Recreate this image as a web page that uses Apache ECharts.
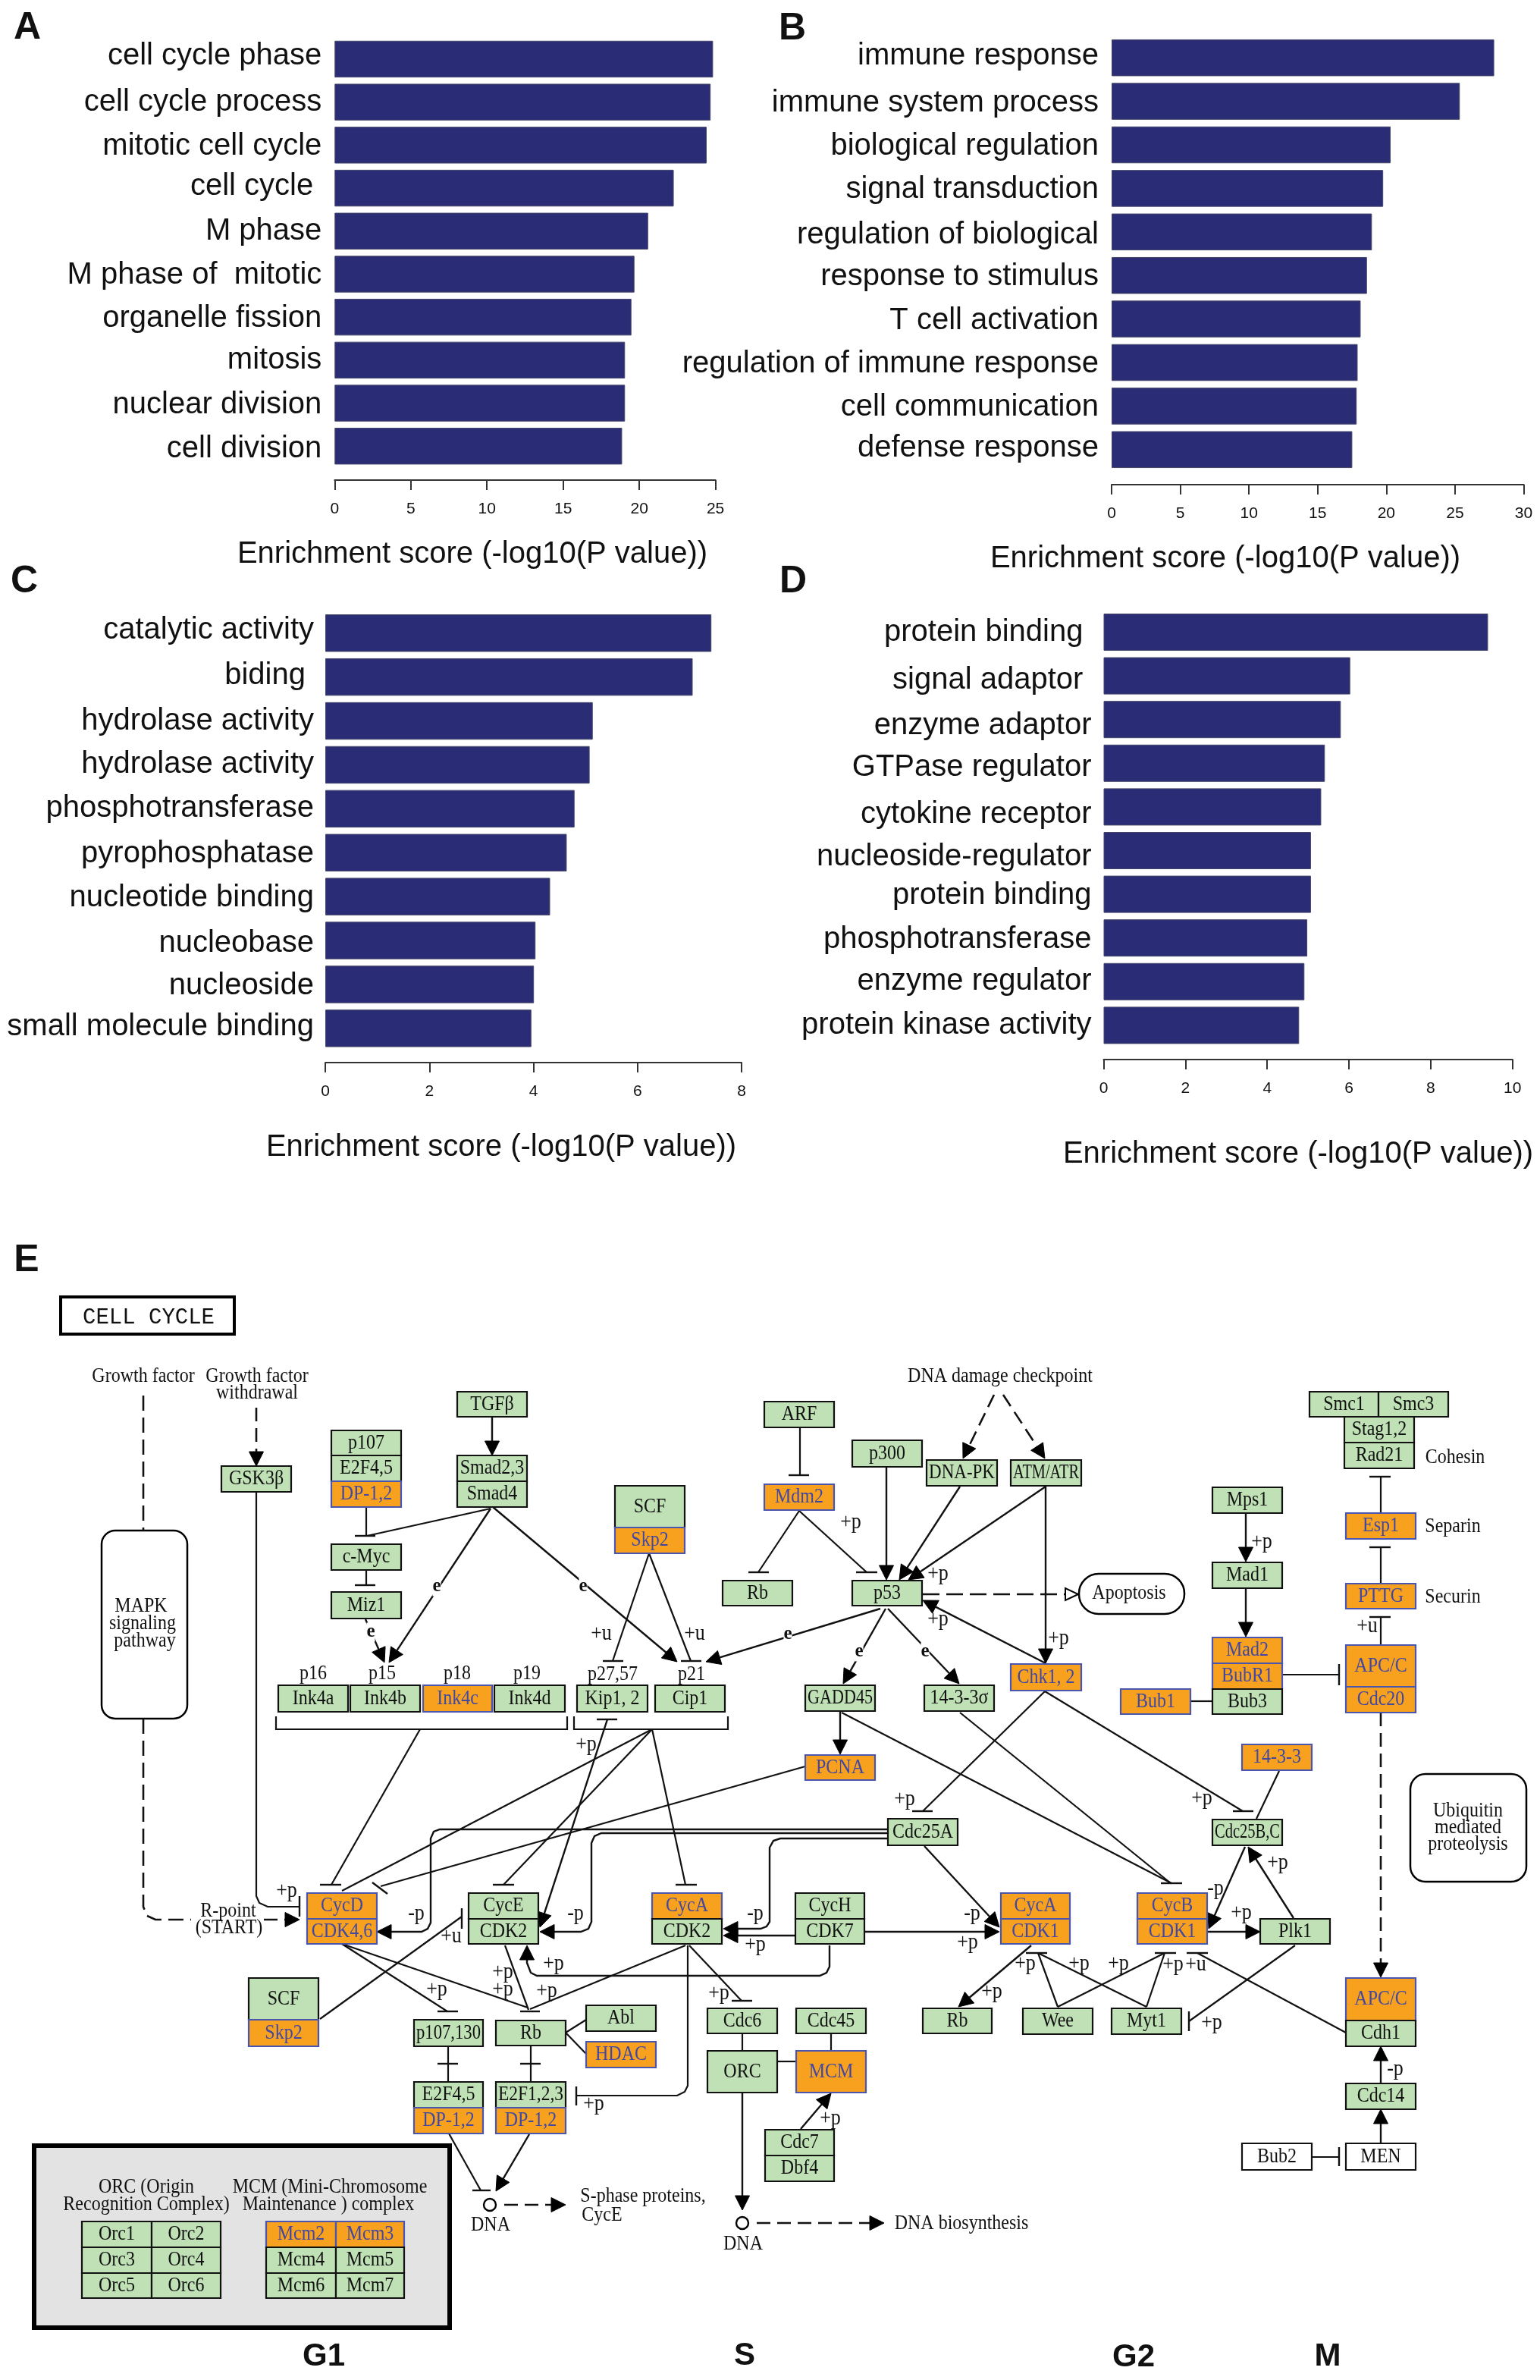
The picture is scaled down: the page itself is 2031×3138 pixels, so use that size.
<!DOCTYPE html>
<html>
<head>
<meta charset="utf-8">
<style>html,body{margin:0;padding:0;background:#fff}#chart{width:2031px;height:3138px}</style>
<script src="https://cdn.jsdelivr.net/npm/echarts@6/dist/echarts.min.js"></script>
</head>
<body>
<div id="chart"></div>
<script>
// ---------- Bar panel data ----------
const categoriesA = ['cell cycle phase','cell cycle process','mitotic cell cycle','cell cycle ','M phase','M phase of  mitotic','organelle fission','mitosis','nuclear division','cell division'];
const valuesA = [24.84,24.68,24.42,22.26,20.58,19.68,19.48,19.06,19.06,18.87];
const categoriesB = ['immune response','immune system process','biological regulation','signal transduction','regulation of biological','response to stimulus','T cell activation','regulation of immune response','cell communication','defense response'];
const valuesB = [27.85,25.35,20.31,19.77,18.95,18.59,18.13,17.91,17.84,17.52];
const categoriesC = ['catalytic activity','biding ','hydrolase activity','hydrolase activity','phosphotransferase','pyrophosphatase','nucleotide binding','nucleobase','nucleoside','small molecule binding'];
const valuesC = [7.42,7.06,5.14,5.08,4.79,4.64,4.32,4.04,4.01,3.96];
const categoriesD = ['protein binding ','signal adaptor ','enzyme adaptor','GTPase regulator','cytokine receptor','nucleoside-regulator','protein binding','phosphotransferase','enzyme regulator','protein kinase activity'];
const valuesD = [9.40,6.03,5.80,5.41,5.32,5.07,5.07,4.98,4.91,4.78];
const axisTitle = 'Enrichment score (-log10(P value))';

// ---------- Pathway gene boxes: text, state (0 green, 1 orange, 2 white) ----------
const geneLabels = [
 'GSK3β','TGFβ','Smad2,3','Smad4','p107','E2F4,5','DP-1,2','c-Myc','Miz1',
 'Ink4a','Ink4b','Ink4c','Ink4d','Kip1, 2','Cip1','SCF','Skp2',
 'ARF','Mdm2','Rb','p300','DNA-PK','ATM/ATR','p53','Chk1, 2','GADD45','14-3-3σ','PCNA','Cdc25A','14-3-3','Cdc25B,C',
 'Mps1','Mad1','Mad2','BubR1','Bub3','Bub1','APC/C','Cdc20','Smc1','Smc3','Stag1,2','Rad21','Esp1','PTTG',
 'CycD','CDK4,6','SCF','Skp2','CycE','CDK2','CycA','CDK2','CycH','CDK7','CycA','CDK1','CycB','CDK1','Plk1',
 'p107,130','E2F4,5','DP-1,2','Rb','E2F1,2,3','DP-1,2','Abl','HDAC','Cdc6','ORC','Cdc45','MCM','Cdc7','Dbf4',
 'Rb','Wee','Myt1','APC/C','Cdh1','Cdc14','MEN','Bub2',
 'Orc1','Orc2','Orc3','Orc4','Orc5','Orc6','Mcm2','Mcm3','Mcm4','Mcm5','Mcm6','Mcm7'
];
const geneStates = [
 0,0,0,0,0,0,1,0,0,
 0,0,1,0,0,0,0,1,
 0,1,0,0,0,0,0,1,0,0,1,0,1,0,
 0,0,1,1,0,1,1,1,0,0,0,0,1,1,
 1,1,0,1,0,0,1,0,0,0,1,1,1,1,0,
 0,0,1,0,0,1,0,1,0,0,0,1,0,0,
 0,0,0,1,0,0,2,2,
 0,0,0,0,0,0,1,1,0,0,0,0
];
// Layout of the boxes on the diagram's own axes (same order as geneLabels)
const geneBoxes = [
 [292,1933,384,1967],[603,1835,695,1868],[603,1919,695,1953],[603,1953,695,1987],[437,1886,529,1919],[437,1919,529,1953],[437,1953,529,1987],[437,2036,529,2070],[437,2099,529,2134],
 [367,2222,459,2257],[462,2222,554,2257],[558,2222,649,2257],[652,2222,745,2257],[761,2222,854,2257],[864,2222,956,2257],[811,1959,903,2014],[811,2014,903,2048],
 [1008,1848,1100,1882],[1008,1957,1100,1991],[953,2084,1045,2117],[1124,1899,1216,1934],[1222,1925,1315,1959],[1333,1925,1426,1959],[1124,2084,1216,2117],[1333,2194,1426,2229],[1062,2222,1154,2256],[1219,2222,1311,2256],[1062,2314,1154,2347],[1171,2398,1263,2433],[1638,2300,1730,2334],[1599,2399,1691,2433],
 [1599,1961,1691,1995],[1599,2060,1691,2094],[1599,2159,1691,2193],[1599,2193,1691,2227],[1599,2227,1691,2260],[1478,2227,1570,2260],[1775,2169,1867,2224],[1775,2224,1867,2258],[1727,1835,1818,1868],[1818,1835,1910,1868],[1773,1868,1865,1902],[1773,1902,1865,1936],[1775,1995,1867,2029],[1775,2088,1867,2121],
 [405,2496,497,2530],[405,2530,497,2563],[328,2608,420,2663],[328,2663,420,2698],[618,2496,710,2530],[618,2530,710,2563],[860,2496,952,2530],[860,2530,952,2563],[1049,2496,1140,2530],[1049,2530,1140,2563],[1320,2496,1411,2530],[1320,2530,1411,2563],[1500,2496,1592,2530],[1500,2530,1592,2563],[1662,2530,1754,2563],
 [546,2663,637,2698],[546,2745,637,2779],[546,2779,637,2813],[654,2664,746,2697],[654,2745,746,2779],[654,2779,746,2813],[773,2644,865,2678],[773,2692,865,2726],[933,2648,1025,2681],[933,2704,1025,2759],[1050,2648,1142,2681],[1050,2704,1142,2759],[1009,2808,1100,2842],[1009,2842,1100,2876],
 [1217,2648,1308,2681],[1349,2648,1441,2682],[1466,2648,1558,2682],[1775,2608,1867,2664],[1775,2664,1867,2698],[1775,2747,1867,2781],[1775,2826,1867,2861],[1638,2826,1730,2861],
 [108,2929,200,2963],[200,2929,291,2963],[108,2963,200,2997],[200,2963,291,2997],[108,2997,200,3030],[200,2997,291,3030],[351,2929,443,2963],[443,2929,533,2963],[351,2963,443,2997],[443,2963,533,2997],[351,2997,443,3030],[443,2997,533,3030]
];

// ---------- Pathway links ----------
const plainLinks = [
 [[483,1987],[483,2025]],[[647,1989],[484,2025]],[[483,2070],[483,2090]],
 [[856,2048],[808,2190]],[[856,2048],[911,2190]],[[1055,1882],[1055,1945]],[[1054,1992],[1000,2073]],[[1054,1992],[1143,2073]],
 [[1378,2230],[1217,2388]],[[1378,2230],[1639,2388]],[[1110,2258],[1545,2483]],[[1266,2258],[1544,2483]],[[1687,2335],[1657,2398]],
 [[1570,2243],[1599,2243]],[[1691,2208],[1766,2208]],[[1821,1947],[1821,1995]],[[1821,2040],[1821,2087]],[[1821,2132],[1821,2168]],
 [[338,1967],[338,2500],[342,2509],[353,2514],[395,2514]],
 [[364,2263],[364,2280],[748,2280],[748,2263]],[[757,2263],[757,2280],[960,2280],[960,2263]],
 [[554,2280],[437,2485]],[[860,2280],[451,2493]],[[860,2280],[664,2485]],[[860,2280],[904,2485]],[[1062,2329],[502,2487]],[[422,2662],[609,2527]],
 [[451,2563],[590,2652]],[[451,2563],[696,2647]],[[666,2565],[697,2650]],[[904,2565],[699,2649]],[[591,2698],[591,2745]],[[700,2697],[700,2744]],
 [[746,2680],[773,2663]],[[746,2680],[773,2708]],[[907,2565],[907,2750],[903,2758],[893,2763],[760,2763]],[[909,2565],[978,2638]],
 [[979,2681],[979,2704]],[[1096,2681],[1096,2704]],[[1025,2718],[1050,2718]],
 [[1395,2646],[1369,2575]],[[1395,2646],[1536,2575]],[[1512,2646],[1369,2575]],[[1512,2646],[1536,2575]],
 [[1775,2680],[1579,2575]],[[1708,2565],[1568,2665]],[[1730,2844],[1766,2844]],[[592,2813],[634,2888]]
];
const arrowLinks = [
 [[649,1868],[649,1919]],[[482,2135],[507,2192]],[[647,1989],[513,2192]],[[650,1987],[893,2191]],
 [[1169,1934],[1169,2083]],[[1266,1960],[1186,2083]],[[1379,1960],[1198,2083]],[[1379,1960],[1379,2193]],[[1379,2193],[1217,2110]],
 [[1161,2121],[931,2191]],[[1168,2121],[1112,2220]],[[1171,2121],[1265,2220]],[[1108,2257],[1108,2313]],
 [[1643,1975],[1643,2059]],[[1643,2094],[1643,2158]],
 [[1171,2412],[580,2412],[572,2415],[568,2424],[568,2535],[564,2543],[556,2547],[497,2547]],
 [[1171,2417],[793,2417],[784,2421],[780,2430],[780,2534],[776,2543],[766,2547],[712,2547]],
 [[1171,2424],[1029,2424],[1020,2427],[1015,2436],[1015,2534],[1011,2540],[1003,2543],[954,2543]],
 [[1219,2434],[1318,2541]],[[801,2267],[712,2541]],[[1049,2552],[954,2552]],[[1140,2547],[1318,2547]],
 [[1094,2565],[1094,2593],[1090,2601],[1081,2605],[708,2605],[700,2601],[695,2588],[695,2565]],
 [[1360,2565],[1264,2646]],[[1592,2547],[1662,2547]],[[1642,2435],[1594,2543]],[[1706,2529],[1646,2435]],
 [[1821,2747],[1821,2698]],[[1821,2826],[1821,2781]],[[1056,2807],[1096,2760]],[[979,2759],[979,2914]],[[698,2814],[654,2889]]
];
const dashedLinks = [[[189,1840],[189,2018]],[[189,2266],[189,2514],[194,2526],[205,2531],[252,2531]]];
const dashedArrowLinks = [
 [[348,2531],[395,2531]],[[338,1856],[338,1933]],[[1311,1839],[1270,1923]],[[1323,1839],[1378,1923]],
 [[1821,2258],[1821,2607]],[[998,2931],[1166,2931]],[[665,2907],[746,2907]]
];
const dashedOpenLinks = [[[1217,2102],[1422,2102]]];
const inhibitBars = [
 [[468,2025],[495,2025]],[[468,2090],[495,2090]],[[795,2190],[822,2190]],[[898,2190],[925,2190]],[[1040,1945],[1067,1945]],[[987,2073],[1014,2073]],[[1129,2073],[1157,2073]],
 [[787,2267],[814,2267]],[[1203,2388],[1230,2388]],[[1626,2388],[1653,2388]],[[1531,2483],[1559,2483]],[[1766,2194],[1766,2222]],[[1806,1947],[1834,1947]],[[1806,2040],[1834,2040]],[[1806,2132],[1834,2132]],
 [[395,2500],[395,2527]],[[422,2485],[450,2485]],[[491,2482],[511,2497]],[[650,2485],[678,2485]],[[891,2485],[919,2485]],[[609,2516],[609,2543]],
 [[577,2652],[604,2652]],[[577,2721],[604,2721]],[[686,2652],[712,2652]],[[686,2721],[713,2721]],[[760,2751],[760,2776]],[[965,2638],[992,2638]],
 [[1353,2575],[1381,2575]],[[1523,2575],[1551,2575]],[[1565,2575],[1593,2575]],[[1568,2652],[1568,2678]],[[1766,2831],[1766,2856]],[[623,2888],[647,2888]]
];

// ---------- Pathway frames and text ----------
const frames = [
 {box:[45,2829,593,3069],r:0,fill:'#e3e3e3',w:6},
 {box:[134,2018,247,2266],r:18,fill:'#fff',w:2.5},
 {box:[1423,2075,1562,2128],r:26,fill:'#fff',w:2.5},
 {box:[1860,2339,2013,2481],r:20,fill:'#fff',w:2.5},
 {box:[80,1710,309,1759],r:0,fill:'#fff',w:4}
];
const dnaSites = [[646,2907],[979,2931]];
const reactionTags = [
 ['+p',378,2493],['-p',549,2523],['+u',595,2553],['+p',576,2623],['+p',663,2600],['+p',663,2623],['+p',730,2589],['+p',721,2625],['-p',759,2523],['+p',773,2300],
 ['+u',793,2154],['+u',916,2154],['+p',1122,2007],['+p',1237,2075],['+p',1237,2135],['+p',1396,2160],['+p',1193,2372],['+p',1585,2371],['+p',1664,2033],['+u',1803,2144],
 ['-p',996,2523],['+p',996,2564],['-p',1282,2523],['+p',1276,2561],['+p',783,2774],['+p',948,2628],['+p',1095,2793],['+p',1308,2626],
 ['-p',1603,2490],['+p',1685,2456],['+p',1637,2522],['+p',1352,2589],['+p',1423,2589],['+p',1475,2589],['+p',1547,2590],['+u',1577,2590],['+p',1598,2667],['-p',1840,2728]
];
const expressionTags = [['e',576,2092],['e',489,2152],['e',769,2092],['e',1039,2155],['e',1133,2178],['e',1220,2178]];
const noteLabels = [
 ['Growth factor',189,1815],['Growth factor',339,1815],['withdrawal',339,1837],
 ['MAPK',186,2118],['signaling',188,2141],['pathway',191,2164],
 ['p16',413,2207],['p15',504,2207],['p18',603,2207],['p19',695,2207],['p27,57',808,2208],['p21',912,2208],
 ['DNA damage checkpoint',1319,1815],['Apoptosis',1489,2101],['Cohesin',1919,1922],['Separin',1916,2013],['Securin',1916,2106],
 ['Ubiquitin',1936,2388],['mediated',1936,2410],['proteolysis',1936,2432],
 ['R-point',301,2520],['(START)',302,2542],
 ['ORC (Origin',193,2884],['Recognition Complex)',193,2907],['MCM (Mini-Chromosome',435,2884],['Maintenance ) complex',433,2907],
 ['DNA',647,2934],['DNA',980,2959],['DNA biosynthesis',1268,2932],['S-phase proteins,',848,2896],['CycE',794,2921]
];
const panelLetters = [['A',36,37],['B',1045,38],['C',32,767],['D',1046,767],['E',35,1662]];
const phaseLetters = [['G1',427,3107],['S',982,3106],['G2',1495,3108],['M',1751,3107]];
const diagramTitle = 'CELL CYCLE';

// ---------- Bar panel layout ----------
const labelNudgeA = [-4,0,2,-2,0,2,2,0,2,4];
const labelNudgeB = [-2,2,2,2,4,2,2,2,2,-2];
const labelNudgeC = [-4,-2,0,0,0,2,2,4,2,-2];
const labelNudgeD = [0,6,8,6,10,8,2,2,0,0];
const panelData = [
 {cats:categoriesA,vals:valuesA,nudge:labelNudgeA,left:441.3,right:943.6,top:49.6,pitch:56.7,bar:48.4,axisY:633,max:25,step:5,tx:618,ty:726,m:17},
 {cats:categoriesB,vals:valuesB,nudge:labelNudgeB,left:1466,right:2009.5,top:47.5,pitch:57.4,bar:48.5,axisY:639,max:30,step:5,tx:1611,ty:732,m:17},
 {cats:categoriesC,vals:valuesC,nudge:labelNudgeC,left:429,right:978,top:805.8,pitch:57.9,bar:49.4,axisY:1401,max:8,step:2,tx:656,ty:1508,m:15},
 {cats:categoriesD,vals:valuesD,nudge:labelNudgeD,left:1455.5,right:1994.8,top:804.7,pitch:57.6,bar:49,axisY:1397,max:10,step:2,tx:1707,ty:1517,m:16}
];
const SANS='"Liberation Sans",Arial,sans-serif', SERIF='"Liberation Serif","Times New Roman",serif', MONO='"Liberation Mono",monospace';
const W=2031,H=3138;
const chart = echarts.init(document.getElementById('chart'),null,{width:W,height:H,renderer:'canvas'});

const grids=[],xAxes=[],yAxes=[],series=[],titles=[];
panelData.forEach((p,i)=>{
  const h=p.pitch*10, rich={};
  p.nudge.forEach((d,k)=>{rich['n'+k]={fontFamily:SANS,fontSize:40,color:'#111',padding:[Math.max(d,0)*2,0,Math.max(-d,0)*2,0]};});
  grids.push({left:p.left,top:p.top,width:p.right-p.left,height:h,containLabel:false});
  xAxes.push({gridIndex:i,type:'value',min:0,max:p.max,interval:p.step,position:'bottom',offset:p.axisY-(p.top+h),
    axisLine:{show:true,onZero:false,lineStyle:{color:'#333',width:2}},
    axisTick:{show:true,length:13,lineStyle:{color:'#333',width:2}},
    axisLabel:{fontFamily:SANS,fontSize:21,color:'#111',margin:28,showMinLabel:true,showMaxLabel:true},splitLine:{show:false}});
  yAxes.push({gridIndex:i,type:'category',inverse:true,data:p.cats,
    axisLine:{show:false},axisTick:{show:false},
    axisLabel:{color:'#111',margin:p.m,interval:0,rich,formatter:(v,k)=>'{n'+k+'|'+v+'}'},splitLine:{show:false}});
  series.push({type:'bar',xAxisIndex:i,yAxisIndex:i,data:p.vals,barWidth:p.bar,silent:true,animation:false,
    itemStyle:{color:'#2a2d75',borderColor:'#44466a',borderWidth:1}});
  titles.push({text:axisTitle,left:p.tx,top:p.ty,textAlign:'center',textVerticalAlign:'middle',
    textStyle:{fontFamily:SANS,fontSize:40,fontWeight:'normal',color:'#111'}});
});

// Diagram coordinate system: a hidden grid spanning the page
const D=panelData.length;
grids.push({left:0,top:0,width:W,height:H});
xAxes.push({gridIndex:D,type:'value',min:0,max:W,show:false});
yAxes.push({gridIndex:D,type:'value',min:0,max:H,inverse:true,show:false});
const diag={xAxisIndex:D,yAxisIndex:D,type:'custom',silent:true,animation:false,clip:false,encode:{x:0,y:1}};

function xy(api,p){return api.coord(p);}
function boxRect(api,b){const a=api.coord([b[0],b[1]]),c=api.coord([b[2],b[3]]);return {x:a[0],y:a[1],width:c[0]-a[0],height:c[1]-a[1]};}

// frames
series.push(Object.assign({},diag,{name:'frames',z:2,data:frames.map(f=>[f.box[0],f.box[1]]),
  renderItem(params,api){const f=frames[params.dataIndex],r=boxRect(api,f.box);
    return {type:'rect',shape:Object.assign(r,{r:f.r}),style:{fill:f.fill,stroke:'#000',lineWidth:f.w}};}}));

// links
const links=[];
plainLinks.forEach(p=>links.push({p,w:2.2}));
inhibitBars.forEach(p=>links.push({p,w:2.4}));
arrowLinks.forEach(p=>links.push({p,w:2.4,head:'solid'}));
dashedLinks.forEach(p=>links.push({p,w:2.6,dash:[20,9]}));
dashedArrowLinks.forEach(p=>links.push({p,w:2.6,dash:[18,9],head:'solid'}));
dashedOpenLinks.forEach(p=>links.push({p,w:2.6,dash:[22,9],head:'open'}));
series.push(Object.assign({},diag,{name:'links',z:3,data:links.map(l=>[l.p[0][0],l.p[0][1]]),
  renderItem(params,api){
    const l=links[params.dataIndex]; let pts=l.p.map(q=>xy(api,q)); const kids=[];
    if(l.head){
      const n=pts.length,t=pts[n-1],s=pts[n-2];const dx=t[0]-s[0],dy=t[1]-s[1],d=Math.hypot(dx,dy),ux=dx/d,uy=dy/d;
      const L=l.head==='open'?17:19,Hw=l.head==='open'?8:9.5;const bx=t[0]-ux*L,by=t[1]-uy*L;
      pts=pts.slice(0,n-1).concat([[bx,by]]);
      kids.push({type:'polygon',shape:{points:[t,[bx-uy*Hw,by+ux*Hw],[bx+uy*Hw,by-ux*Hw]]},
        style:{fill:l.head==='open'?'#fff':'#000',stroke:'#000',lineWidth:l.head==='open'?2:1},z2:2});
    }
    kids.unshift({type:'polyline',shape:{points:pts},style:{stroke:'#111',fill:'none',lineWidth:l.w,lineDash:l.dash||null},z2:1});
    return {type:'group',children:kids};
  }}));

// DNA sites
series.push(Object.assign({},diag,{name:'sites',z:4,data:dnaSites.map(d=>[d[0],d[1]]),
  renderItem(params,api){const c=api.coord(dnaSites[params.dataIndex]);
    return {type:'circle',shape:{cx:c[0],cy:c[1],r:8},style:{fill:'#fff',stroke:'#000',lineWidth:2.4}};}}));

// gene boxes
const fills=['#bfe1b5','#f8a11f','#ffffff'],strokes=['#111','#4a55ad','#111'],inks=['#111','#4048a3','#111'];
const measure=document.createElement('canvas').getContext('2d');
const geneFont='24px '+SERIF, tallText=1.13;
series.push(Object.assign({},diag,{name:'genes',z:5,data:geneBoxes.map(b=>[b[0],b[1]]),
  renderItem(params,api){
    const i=params.dataIndex,s=geneStates[i],r=boxRect(api,geneBoxes[i]),t=geneLabels[i];
    measure.font=geneFont;const tw=measure.measureText(t).width,k=Math.min(1,(r.width-6)/tw);
    const cx=r.x+r.width/2,cy=r.y+r.height/2;
    return {type:'group',children:[
      {type:'rect',shape:r,style:{fill:fills[s],stroke:strokes[s],lineWidth:2.2}},
      {type:'text',x:cx,y:cy,scaleX:k,scaleY:tallText,style:{text:t,x:0,y:0,align:'center',verticalAlign:'middle',font:geneFont,fill:inks[s]},z2:3}
    ]};
  }}));

// free text
const texts=[];
reactionTags.forEach(t=>texts.push({t,font:'26px '+SERIF,sy:tallText}));
expressionTags.forEach(t=>texts.push({t,font:'bold 25px '+SERIF,bg:'#fff'}));
noteLabels.forEach(t=>texts.push({t,font:'24px '+SERIF,sy:tallText}));
panelLetters.forEach(t=>texts.push({t,font:'bold 50px '+SANS}));
phaseLetters.forEach(t=>texts.push({t,font:'bold 42px '+SANS}));
texts.push({t:[diagramTitle,196,1737],font:'29px '+MONO});
series.push(Object.assign({},diag,{name:'text',z:6,data:texts.map(o=>[o.t[1],o.t[2]]),
  renderItem(params,api){const o=texts[params.dataIndex],c=api.coord([o.t[1],o.t[2]]);
    return {type:'text',x:c[0],y:c[1],scaleY:o.sy||1,style:{text:o.t[0],x:0,y:0,align:'center',verticalAlign:'middle',font:o.font,fill:'#111',backgroundColor:o.bg||null}};}}));

chart.setOption({animation:false,backgroundColor:'#fff',title:titles,grid:grids,xAxis:xAxes,yAxis:yAxes,series});
</script>
</body>
</html>
